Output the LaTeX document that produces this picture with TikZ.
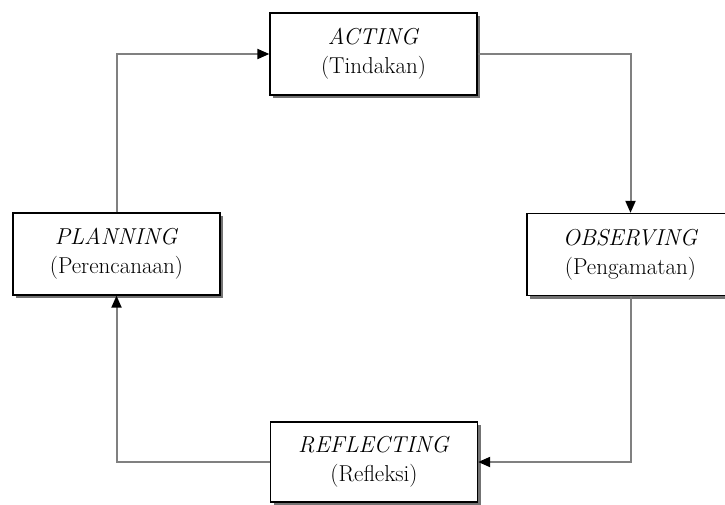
\documentclass[tikz,border=0pt]{standalone}
\usepackage{fontspec}
\usepackage{tikz}
\usetikzlibrary{arrows.meta}
\usetikzlibrary{shadows}

\begin{document}
\begin{tikzpicture}[x=1pt,y=-1pt,
    box/.style={draw, line width=1.3pt, fill=white, minimum width=207pt, minimum height=82pt,
        inner sep=0pt, align=center, font=\fontsize{23}{29}\selectfont,
        drop shadow={shadow xshift=3pt, shadow yshift=-3pt, fill=black!55, opacity=1}},
    link/.style={draw=black!50, line width=2pt, -{Triangle[length=12pt,width=10pt,color=black]}}]
            % Frame
            \useasboundingbox (0,0) rectangle (725,504);
            \clip (0,0) rectangle (725,504);

            % Boxes
            \node[box] (acting) at (373.5,54) {\textit{ACTING}\\(Tindakan)};
            \node[box] (planning) at (116.5,254) {\textit{PLANNING}\\(Perencanaan)};
            \node[box] (observing) at (630.5,254.5) {\textit{OBSERVING}\\(Pengamatan)};
            \node[box, minimum height=80pt] (reflecting) at (374,462) {\textit{REFLECTING}\\(Refleksi)};

            % Arrows
            \draw[link] (planning.north) |- (acting.west);
            \draw[link] (acting.east) -| (observing.north);
            \draw[link] (observing.south) |- (reflecting.east);
            \draw[link] (reflecting.west) -| (planning.south);
        \end{tikzpicture}
\end{document}
